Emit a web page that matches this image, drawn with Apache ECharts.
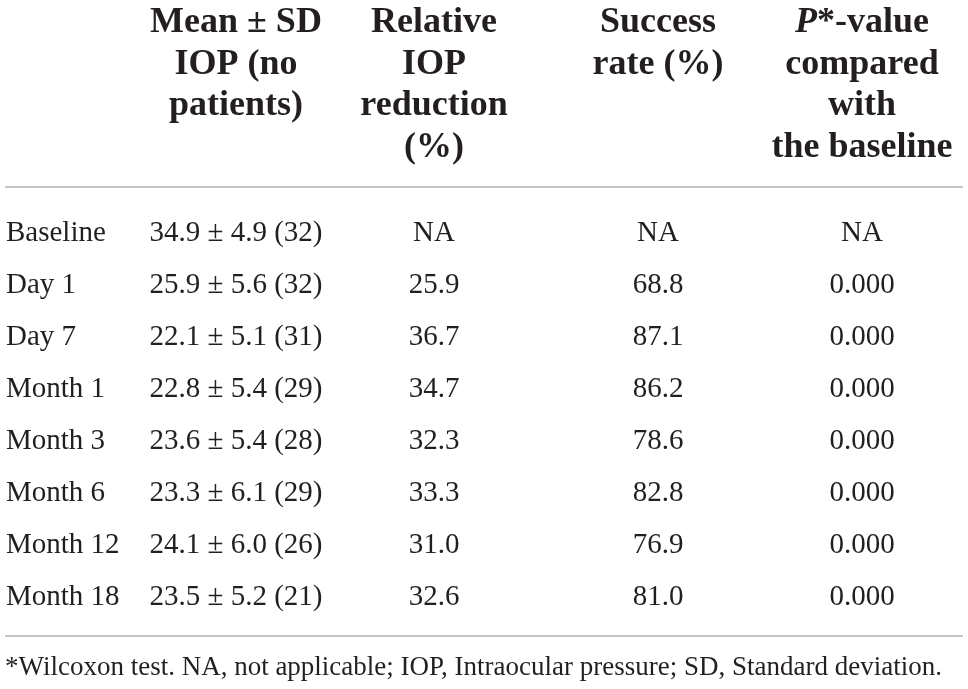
<!DOCTYPE html>
<html>
<head>
<meta charset="utf-8">
<script src="https://cdn.jsdelivr.net/npm/echarts@6/dist/echarts.min.js"></script>
<style>
  html, body { margin: 0; padding: 0; background: #fff; }
  #main { width: 968px; height: 689px; }
</style>
</head>
<body>
<div id="main"></div>
<script>
// table data
var timepoints = ['Baseline', 'Day 1', 'Day 7', 'Month 1', 'Month 3', 'Month 6', 'Month 12', 'Month 18'];
var iopMean = [34.9, 25.9, 22.1, 22.8, 23.6, 23.3, 24.1, 23.5];
var iopSd = [4.9, 5.6, 5.1, 5.4, 5.4, 6.1, 6.0, 5.2];
var patients = [32, 32, 31, 29, 28, 29, 26, 21];
var relReduction = [null, 25.9, 36.7, 34.7, 32.3, 33.3, 31.0, 32.6];
var successRate = [null, 68.8, 87.1, 86.2, 78.6, 82.8, 76.9, 81.0];
var pValue = [null, 0.000, 0.000, 0.000, 0.000, 0.000, 0.000, 0.000];
var footnote = '*Wilcoxon test. NA, not applicable; IOP, Intraocular pressure; SD, Standard deviation.';

// layout (x anchor of each column on the hidden value axis, and its alignment)
var colX = [6, 236, 434, 658, 862];
var colAlign = ['left', 'center', 'center', 'center', 'center'];
var textColor = '#231f20';
var ruleColor = '#c4c4c4';
var font = '"Liberation Serif", "DejaVu Serif", serif';

function fmt(v, d) {
  return v === null ? 'NA' : v.toFixed(d);
}

// one item per cell: [column, row, text]
var cells = [];
timepoints.forEach(function (t, i) {
  cells.push([0, t, t]);
  cells.push([1, t, iopMean[i].toFixed(1) + ' \u00b1 ' + iopSd[i].toFixed(1) + ' (' + patients[i] + ')']);
  cells.push([2, t, fmt(relReduction[i], 1)]);
  cells.push([3, t, fmt(successRate[i], 1)]);
  cells.push([4, t, fmt(pValue[i], 3)]);
});

var chart = echarts.init(document.getElementById('main'));

var headStyle = {
  fill: textColor,
  font: 'bold 36px ' + font,
  lineHeight: 41.5,
  textAlign: 'center',
  textVerticalAlign: 'top'
};

chart.setOption({
  animation: false,
  grid: { left: 0, right: 0, top: 206, bottom: 67 },
  xAxis: { type: 'value', min: 0, max: 968, show: false },
  yAxis: { type: 'category', data: timepoints, inverse: true, show: false },
  series: [{
    type: 'custom',
    data: cells,
    encode: { x: 0, y: 1 },
    renderItem: function (params, api) {
      var c = api.value(0);
      var p = api.coord([colX[c], api.value(1)]);
      return {
        type: 'text',
        x: p[0],
        y: p[1] + 1,
        style: {
          text: cells[params.dataIndex][2],
          fill: textColor,
          font: '29px ' + font,
          textAlign: colAlign[c],
          textVerticalAlign: 'middle'
        }
      };
    }
  }],
  graphic: [
    { type: 'text', x: colX[1], y: 2, style: Object.assign({ text: 'Mean \u00b1 SD\nIOP (no\npatients)' }, headStyle) },
    { type: 'text', x: colX[2], y: 2, style: Object.assign({ text: 'Relative\nIOP\nreduction\n(%)' }, headStyle) },
    { type: 'text', x: colX[3], y: 2, style: Object.assign({ text: 'Success\nrate (%)' }, headStyle) },
    {
      type: 'text', x: colX[4], y: 2,
      style: Object.assign({
        text: '{i|P}{b|*-value}\ncompared\nwith\nthe baseline',
        rich: {
          i: { font: 'italic bold 36px ' + font, fill: textColor, lineHeight: 41.5 },
          b: { font: 'bold 36px ' + font, fill: textColor, lineHeight: 41.5 }
        }
      }, headStyle)
    },
    { type: 'line', shape: { x1: 5, y1: 187, x2: 963, y2: 187 }, style: { stroke: ruleColor, lineWidth: 2 } },
    { type: 'line', shape: { x1: 5, y1: 636, x2: 963, y2: 636 }, style: { stroke: ruleColor, lineWidth: 2 } },
    {
      type: 'text', x: 5, y: 668,
      style: { text: footnote, fill: textColor, font: '27px ' + font, textAlign: 'left', textVerticalAlign: 'middle' }
    }
  ]
});
</script>
</body>
</html>
